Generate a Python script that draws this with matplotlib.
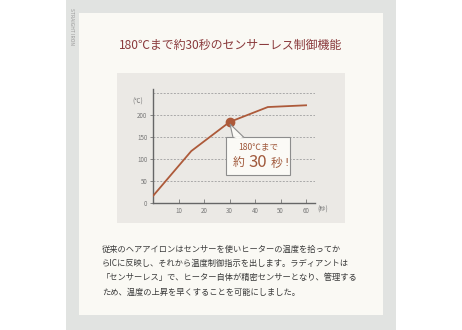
import matplotlib
matplotlib.use('Agg')
import matplotlib.pyplot as plt
from matplotlib.patches import Rectangle, Polygon

plt.rcParams['font.family'] = ['Noto Sans CJK JP', 'DejaVu Sans']

# data
secs = [0, 15, 30, 45, 60]
temps = [16, 118, 184, 218, 222]
yticks = [0, 50, 100, 150, 200]
xticks = [10, 20, 30, 40, 50, 60]
grid_vals = [50, 100, 150, 200, 250]
title = '180℃まで約30秒のセンサーレス制御機能'
body = ['従来のヘアアイロンはセンサーを使いヒーターの温度を拾ってか',
        'らICに反映し、それから温度制御指示を出します。ラディアントは',
        '「センサーレス」で、ヒーター自体が精密センサーとなり、管理する',
        'ため、温度の上昇を早くすることを可能にしました。']

W, H = 462, 330
fig = plt.figure(figsize=(W/100, H/100), dpi=100)
fig.patch.set_facecolor('white')

def px(x, y, w, h):
    # pixel box (top-left origin) -> figure fraction
    return (x/W, 1-(y+h)/H), w/W, h/H

def rect(x, y, w, h, c):
    xy, ww, hh = px(x, y, w, h)
    fig.patches.append(Rectangle(xy, ww, hh, transform=fig.transFigure, facecolor=c,
                                 edgecolor='none', zorder=-5))

rect(66, 0, 330, 330, '#e1e3e1')
rect(79, 13, 304, 302, '#faf9f4')
rect(117, 73, 228, 150, '#ebe9e5')

fig.text(72/W, 1-27/H, 'STRAIGHT IRON', rotation=270, fontsize=3.6, color='#9a9a9a',
         ha='center', va='center')
fig.text(231/W, 1-45/H, title, fontsize=8.6, color='#8a3a3c', ha='center', va='center')

for i, line in enumerate(body):
    fig.text(102/W, 1-(249+14.3*i)/H, line, fontsize=5.95, color='#3a3a3a', ha='left', va='center')

ax = fig.add_axes([153/W, 1-203/H, 162/W, 114/H])
ax.patch.set_alpha(0)
ax.set_xlim(0, 63.5)
ax.set_ylim(0, 259)
for v in grid_vals:
    ax.axhline(v, color='#a9a9a9', lw=0.7, ls=(0, (2, 1.5)), zorder=1)
ax.plot(secs, temps, color='#ad5a3a', lw=1.3, zorder=3)
ax.plot([secs[2]], [temps[2]], 'o', color='#ad5a3a', ms=6, zorder=4)

for s in ['top', 'right']:
    ax.spines[s].set_visible(False)
for s in ['left', 'bottom']:
    ax.spines[s].set_color('#666666')
    ax.spines[s].set_linewidth(1)
ax.set_xticks(xticks)
ax.set_yticks(yticks)
ax.tick_params(axis='x', direction='in', length=3, width=0.6, colors='#777777', labelsize=4.5, pad=3)
ax.tick_params(axis='y', length=2, width=0.6, colors='#777777', labelsize=4.5, pad=2)
ax.text(-4, 231, '(℃)', fontsize=4.5, color='#777777', ha='right', va='center')
ax.text(64.5, -15, '(秒)', fontsize=4.5, color='#777777', ha='left', va='center')

# callout
xy, ww, hh = px(226, 137, 64, 38)
box = Rectangle(xy, ww, hh, transform=fig.transFigure, facecolor='#fbfaf6',
                edgecolor='#8d8d8d', lw=0.8, zorder=5)
fig.patches.append(box)
tri = Polygon([(233/W, 1-137.5/H), (230/W, 1-124/H), (244/W, 1-137.5/H)], closed=True,
              transform=fig.transFigure, facecolor='#fbfaf6', edgecolor='#8d8d8d', lw=0.8, zorder=5)
fig.patches.append(tri)
tri2 = Polygon([(233.6/W, 1-137/H), (244/W, 1-137/H), (238/W, 1-139/H)], closed=True,
               transform=fig.transFigure, facecolor='#fbfaf6', edgecolor='none', zorder=6)
fig.patches.append(tri2)
tc = '#a0593c'
fig.text(258/W, 1-147/H, '180℃まで', fontsize=6.2, color=tc, ha='center', va='center', zorder=7)
fig.text(239/W, 1-163/H, '約', fontsize=8.5, color=tc, ha='center', va='center', zorder=7)
fig.text(257.5/W, 1-162/H, '30', fontsize=12, color=tc, ha='center', va='center', zorder=7)
fig.text(277/W, 1-163/H, '秒', fontsize=8.5, color=tc, ha='center', va='center', zorder=7)
fig.text(286.5/W, 1-163/H, '!', fontsize=8, color=tc, ha='center', va='center', zorder=7,
         family='DejaVu Sans')

fig.savefig('out.png', dpi=100, facecolor=fig.get_facecolor())
